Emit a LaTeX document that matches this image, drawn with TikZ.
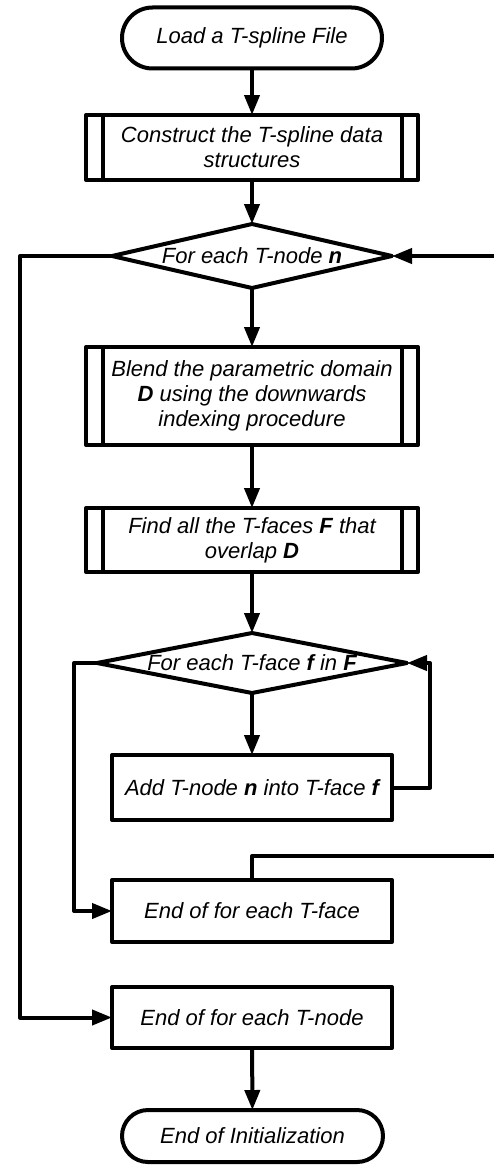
\documentclass[tikz,border=0pt]{standalone}
\usepackage{fontspec}
\setmainfont{Liberation Sans}
\usetikzlibrary{shapes.geometric,shapes.misc,arrows.meta}

% zero-width label so the diamond keeps its given size
\newcommand{\zerowidth}[1]{\makebox[0pt]{#1}}

\begin{document}
\begin{tikzpicture}[x=1pt,y=-1pt,
  line width=4pt, line join=round,
  every node/.style={font=\fontsize{22}{25}\selectfont\itshape,
    align=center, inner sep=0pt, outer sep=0pt},
  term/.style={draw, rounded rectangle, minimum width=260pt},
  proc/.style={draw, rectangle, minimum width=280pt},
  predef/.style={draw, rectangle, minimum width=332pt},
  decision/.style={draw, diamond},
  flow/.style={-{Triangle[length=20pt,width=15pt]}},
]
\useasboundingbox (0,0) rectangle (494,1172);

% process nodes
\node[term, minimum height=61pt] (start) at (252,38) {Load a T-spline File};
\node[predef, minimum height=65pt] (build) at (252,147.5)
  {Construct the T-spline data\\structures};
\node[decision, minimum width=280pt, minimum height=64pt] (loopn) at (252,256)
  {\zerowidth{For each T-node \textbf{n}}};
\node[predef, minimum height=98pt] (blend) at (252,396)
  {Blend the parametric domain\\\textbf{D} using the downwards\\indexing procedure};
\node[predef, minimum height=64pt] (find) at (252,540)
  {Find all the T-faces \textbf{F} that\\overlap \textbf{D}};
\node[decision, minimum width=310pt, minimum height=60pt] (loopf) at (252,663)
  {\zerowidth{For each T-face \textbf{f} in \textbf{F}}};
\node[proc, minimum height=65pt] (add) at (252,787.5)
  {Add T-node \textbf{n} into T-face \textbf{f}};
\node[proc, minimum height=62pt] (endf) at (252,911) {End of for each T-face};
\node[proc, minimum height=61pt] (endn) at (252,1017.5) {End of for each T-node};
\node[term, minimum height=52pt, minimum width=261pt] (stop) at (252.5,1136)
  {End of Initialization};

% double side bars of the predefined-process boxes
\foreach \b in {build,blend,find}{
  \draw ([xshift=16.5pt]\b.north west) -- ([xshift=16.5pt]\b.south west);
  \draw ([xshift=-16.5pt]\b.north east) -- ([xshift=-16.5pt]\b.south east);
}

% loop return points
\coordinate (outerleft) at (20,256);
\coordinate (innerleft) at (74,663);
\coordinate (innerright) at (430,787.5);
\coordinate (backtop) at (500,856);

% main flow
\draw[flow] (start) -- (build);
\draw[flow] (build) -- (loopn);
\draw[flow] (loopn) -- (blend);
\draw[flow] (blend) -- (find);
\draw[flow] (find) -- (loopf);
\draw[flow] (loopf) -- (add);
\draw[flow] (endn) -- (stop);

% loops
\draw[flow] (add.east) -- (innerright) |- (loopf.east);
\draw[flow] (loopf.west) -- (innerleft) |- (endf.west);
\draw[flow] (loopn.west) -- (outerleft) |- (endn.west);
\draw[flow] (endf.north) |- (backtop) |- (loopn.east);
\end{tikzpicture}
\end{document}
